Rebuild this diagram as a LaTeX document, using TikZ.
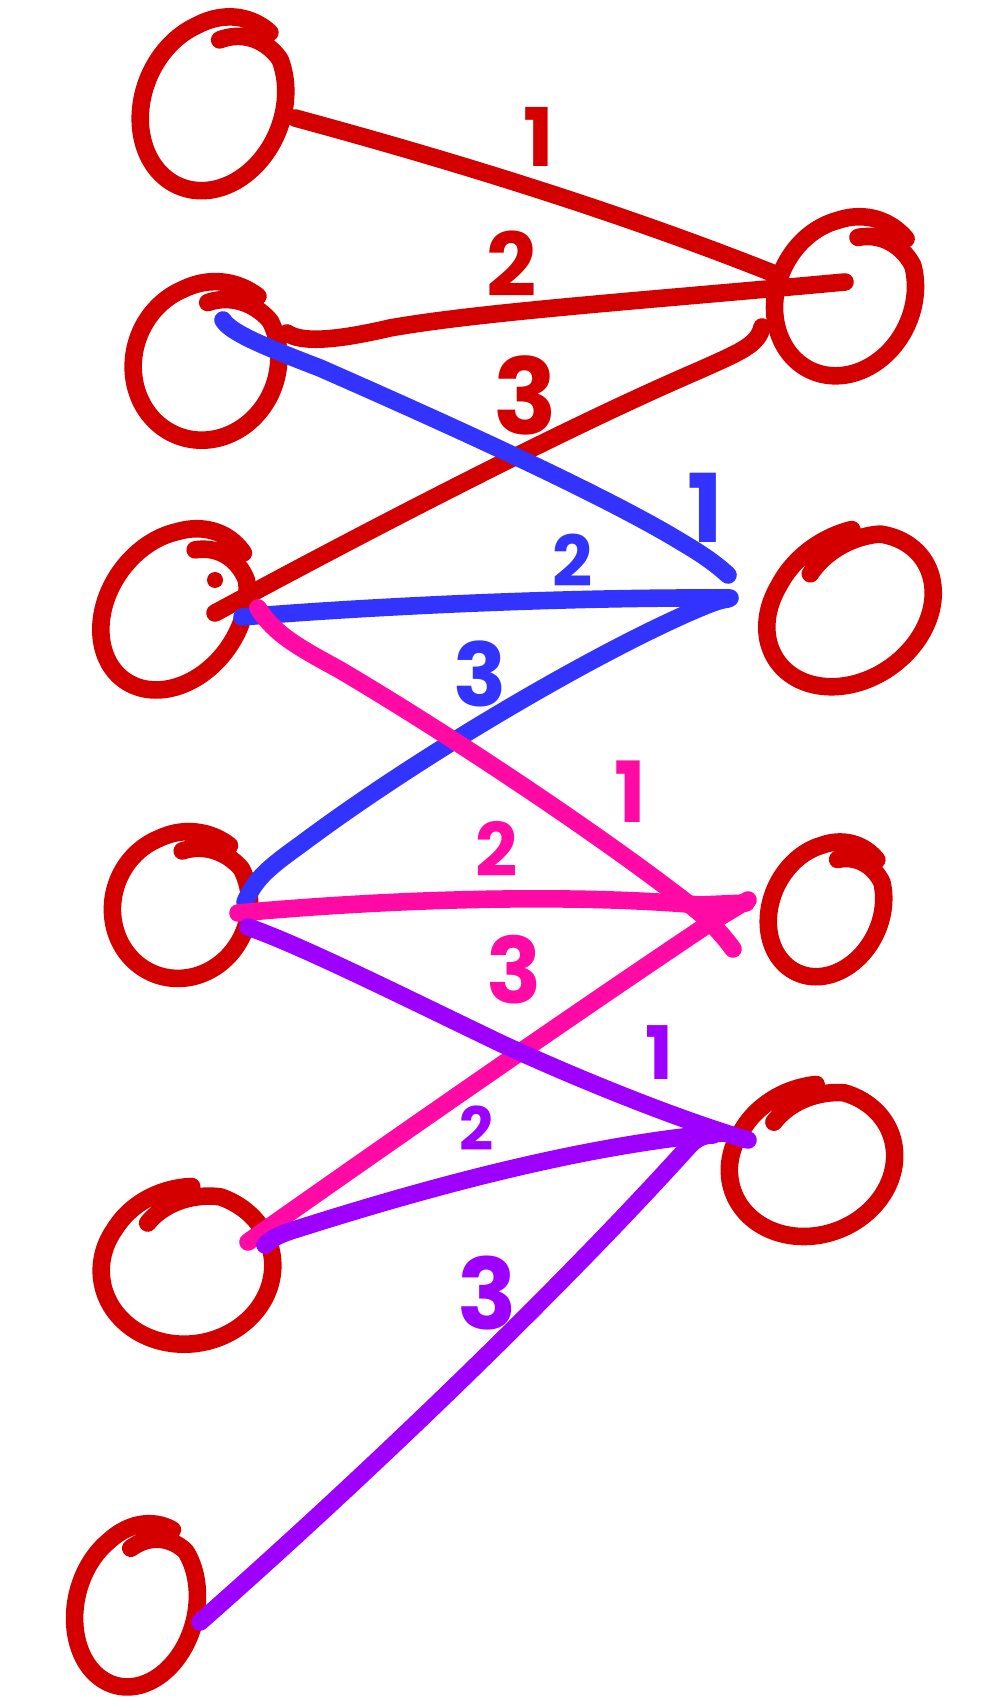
\documentclass[tikz,border=0pt]{standalone}
\usepackage{fontspec}
\setmainfont{Poppins}
\usetikzlibrary{calc}
\definecolor{hred}{HTML}{D40000}
\definecolor{hblue}{HTML}{3333FF}
\definecolor{hpink}{HTML}{FF0AA5}
\definecolor{hpurple}{HTML}{9D00FF}
\newcommand{\lf}[1]{\fontsize{#1}{#1}\selectfont\bfseries}
% hand-drawn loop round a named node: name, half width, half height, rotation, start angle
\newcommand{\hloop}[5]{%
  \draw[loopline, shift={(#1.center)}, rotate=#4]
    plot[domain=0:400, samples=140, smooth, variable=\t]
    ({#2*(1+0.07*max(0,1-\t/60)-0.24*max(0,(\t-340)/60))*cos(#5-\t)},
     {#3*(1+0.07*max(0,1-\t/60)-0.24*max(0,(\t-340)/60))*sin(#5-\t)});
}
\begin{document}
\begin{tikzpicture}[x=0.01cm, y=-0.01cm,
  penline/.style={line width=5pt, line cap=round, line join=round},
  loopline/.style={penline, hred},
  vert/.style={circle, inner sep=0pt, minimum size=0pt},
  lab/.style={inner sep=0pt, font=\lf{#1}},
  ered/.style={penline, hred},
  eblue/.style={penline, hblue},
  epink/.style={penline, hpink},
  epurple/.style={penline, hpurple}]
\useasboundingbox[fill=white] (0,0) rectangle (1000,1698);

% vertices
\node[vert] (L1) at (213,105) {};
\node[vert] (L2) at (206,362) {};
\node[vert] (L3) at (174,610) {};
\node[vert] (L4) at (181,906) {};
\node[vert] (L5) at (187,1268) {};
\node[vert] (L6) at (136,1607) {};
\node[vert] (R1) at (845,297) {};
\node[vert] (R2) at (850,610) {};
\node[vert] (R3) at (826,910) {};
\node[vert] (R4) at (812,1163) {};

\hloop{L1}{70}{88}{-22}{290}
\hloop{L2}{72}{79}{-20}{290}
\hloop{L3}{66}{86}{-35}{290}
\hloop{L4}{68}{73}{-20}{290}
\hloop{L5}{86}{76}{8}{280}
\hloop{L6}{60}{81}{-14}{285}
\hloop{R1}{68}{81}{-25}{295}
\hloop{R2}{89}{70}{35}{300}
\hloop{R3}{55}{69}{-25}{295}
\hloop{R4}{84}{72}{20}{290}
\fill[hred] ($(L3)+(41,-30)$) circle (8);

% connector ends
\coordinate (r1s) at ($(L1)+(82,13)$);
\coordinate (r1e) at ($(R1)+(-65,-21)$);
\coordinate (r2s) at ($(L2)+(81,-29)$);
\coordinate (r2e) at ($(R1)+(0,-15)$);
\coordinate (r3s) at ($(L3)+(41,3)$);
\coordinate (r3e) at ($(R1)+(-83,30)$);
\coordinate (b1s) at ($(L2)+(17,-42)$);
\coordinate (b1e) at ($(R2)+(-122,-35)$);
\coordinate (b2s) at ($(L3)+(68,7)$);
\coordinate (b2e) at ($(R2)+(-120,-12)$);
\coordinate (b3s) at ($(L4)+(64,-4)$);
\coordinate (b3e) at ($(R2)+(-122,-11)$);
\coordinate (p1s) at ($(L3)+(84,-2)$);
\coordinate (p1e) at ($(R3)+(-93,39)$);
\coordinate (p2s) at ($(L4)+(57,7)$);
\coordinate (p2e) at ($(R3)+(-80,-7)$);
\coordinate (p3s) at ($(L5)+(61,-26)$);
\coordinate (p3e) at ($(R3)+(-78,-10)$);
\coordinate (u1s) at ($(L4)+(67,21)$);
\coordinate (u1e) at ($(R4)+(-64,-23)$);
\coordinate (u2s) at ($(L5)+(78,-23)$);
\coordinate (u2e) at ($(R4)+(-90,-30)$);
\coordinate (u3s) at ($(L6)+(64,15)$);
\coordinate (u3e) at ($(R4)+(-99,-28)$);

% red edges
\draw[ered] (r1s) .. controls (450,160) and (620,212) .. (r1e);
\draw[ered] (r2s) .. controls (300,342) and (330,342) .. (390,328)
  .. controls (480,312) and (650,300) .. (r2e);
\draw[ered] (r3s) .. controls (350,540) and (560,430) .. (700,370)
  .. controls (740,352) and (758,345) .. (r3e);
% blue edges
\draw[eblue] (b1s) .. controls (230,332) and (260,345) .. (320,368)
  .. controls (420,412) and (600,492) .. (683,543)
  .. controls (700,553) and (715,563) .. (b1e);
\draw[eblue] (b2s) .. controls (350,608) and (550,597) .. (b2e);
\draw[eblue] (b3s) .. controls (255,880) and (265,870) .. (300,845)
  .. controls (420,755) and (600,650) .. (700,608)
  .. controls (712,603) and (720,600) .. (b3e);
% pink edges
\draw[epink] (p1s) .. controls (275,635) and (300,648) .. (340,670)
  .. controls (450,735) and (600,835) .. (690,905)
  .. controls (710,920) and (725,938) .. (p1e);
\draw[epink] (p2s) .. controls (380,900) and (560,893) .. (700,905) -- (p2e);
\draw[epink] (p3s) .. controls (350,1170) and (550,1030) .. (710,923) -- (p3e);
% purple edges
\draw[epurple] (u1s) .. controls (300,945) and (400,995) .. (500,1043)
  .. controls (580,1080) and (680,1120) .. (u1e);
\draw[epurple] (u2s) .. controls (272,1238) and (280,1234) .. (300,1228)
  .. controls (420,1190) and (580,1145) .. (u2e);
\draw[epurple] (u3s) .. controls (350,1490) and (550,1300) .. (690,1145)
  .. controls (698,1137) and (705,1135) .. (u3e);

% labels
\node[lab=23, hred] (lr1) at (539,137) {1};
\node[lab=25, hred] (lr2) at (512,264) {2};
\node[lab=30, hred] (lr3) at (525,395) {3};
\node[lab=27, hblue] (lb1) at (705,508) {1};
\node[lab=20, hblue] (lb2) at (573,560) {2};
\node[lab=25, hblue] (lb3) at (480,674) {3};
\node[lab=24, hpink] (lp1) at (630,792) {1};
\node[lab=21, hpink] (lp2) at (497,849) {2};
\node[lab=26, hpink] (lp3) at (514,970) {3};
\node[lab=21, hpurple] (lu1) at (659,1053) {1};
\node[lab=17, hpurple] (lu2) at (477,1128) {2};
\node[lab=28, hpurple] (lu3) at (487,1293) {3};
\end{tikzpicture}
\end{document}
